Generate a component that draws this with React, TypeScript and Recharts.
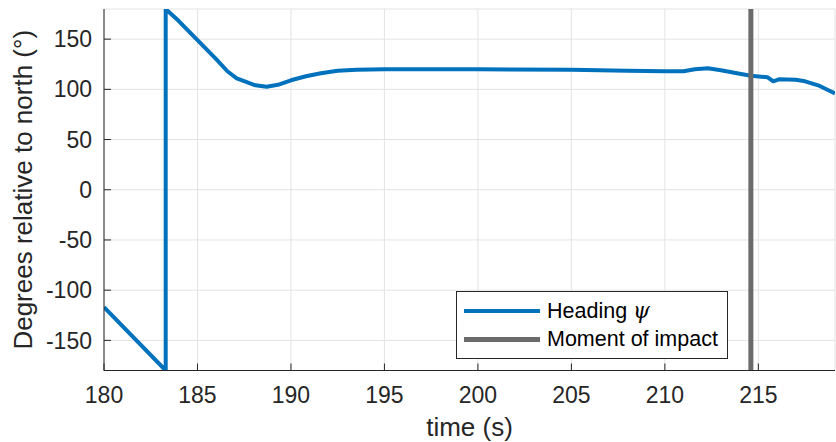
import React from 'react';
import {
  LineChart,
  Line,
  XAxis,
  YAxis,
  CartesianGrid,
  ReferenceLine,
  Legend,
} from 'recharts';

const timeS = [
  180, 183.3, 183.3, 184, 185, 186, 186.6, 187.1, 187.6, 188.1, 188.7, 189.3, 190, 190.8,
  191.6, 192.5, 193.5, 195, 200, 205, 208, 210, 211, 211.6, 212.3, 213, 214, 214.6, 215.5,
  215.8, 216.1, 217, 217.5, 218.2, 219.1,
];
const headingDeg = [
  -117, -180, 180, 168, 149, 130, 118, 111, 107.5, 104, 102.5, 104.5, 109, 113,
  116, 118.5, 119.5, 120, 120, 119.5, 118.5, 118, 118, 120, 121, 119, 115.5, 113.5, 112,
  108, 110, 109.5, 108, 104, 96,
];
const xTicks = [180, 185, 190, 195, 200, 205, 210, 215];
const yTicks = [-150, -100, -50, 0, 50, 100, 150];
const impactTime = 214.6;

const data = timeS.map((t, i) => ({ t, heading: headingDeg[i] }));

const FONT = '"Liberation Sans", Arial, Helvetica, sans-serif';
const INK = '#262626';
const BLUE = '#0072BD';
const GRAY = '#6b6b6b';

const LegendBox = () => (
  <div
    style={{
      border: `1px solid ${INK}`,
      background: '#fff',
      fontFamily: FONT,
      fontSize: 21.5,
      color: '#000',
      padding: '4px 0 4px 7px',
      boxSizing: 'border-box',
      width: 272,
      height: 68,
    }}
  >
    <div style={{ display: 'flex', alignItems: 'center', height: 29 }}>
      <span style={{ width: 76, height: 4, background: BLUE, marginRight: 7 }} />
      <span>
        Heading <span style={{ fontFamily: '"DejaVu Serif", serif', fontStyle: 'italic' }}>ψ</span>
      </span>
    </div>
    <div style={{ display: 'flex', alignItems: 'center', height: 29 }}>
      <span style={{ width: 76, height: 5, background: GRAY, marginRight: 7 }} />
      <span>Moment of impact</span>
    </div>
  </div>
);

const YLabel = ({ viewBox }: any) => {
  const cy = viewBox.y + viewBox.height / 2;
  return (
    <text
      x={23}
      y={cy}
      transform={`rotate(-90, 23, ${cy})`}
      textAnchor="middle"
      dominantBaseline="central"
      fill={INK}
      fontSize={26}
      fontFamily={FONT}
    >
      Degrees relative to north (°)
    </text>
  );
};

const XLabel = ({ viewBox }: any) => (
  <text
    x={viewBox.x + viewBox.width / 2}
    y={436}
    textAnchor="middle"
    fill={INK}
    fontSize={26}
    fontFamily={FONT}
  >
    time (s)
  </text>
);

export default function App() {
  return (
    <div style={{ position: 'absolute', left: 0, top: 0, background: '#fff' }}>
      <LineChart
        width={836}
        height={442}
        data={data}
        margin={{ top: 9, right: 1, left: 0, bottom: 0 }}
      >
        <CartesianGrid xAxisId="main" yAxisId="main" stroke="#e3e3e3" strokeWidth={1} />
        <XAxis
          xAxisId="main"
          dataKey="t"
          type="number"
          domain={[180, 219.1]}
          ticks={xTicks}
          allowDataOverflow
          height={71.5}
          stroke={INK}
          tickSize={-7}
          tickMargin={23}
          tick={{ fill: INK, fontSize: 23, fontFamily: FONT }}
          label={<XLabel />}
        />
        <XAxis
          xAxisId="top"
          dataKey="t"
          type="number"
          orientation="top"
          domain={[180, 219.1]}
          ticks={xTicks}
          allowDataOverflow
          height={0}
          stroke={INK}
          tickSize={-7}
          tickFormatter={() => ''}
        />
        <YAxis
          yAxisId="main"
          type="number"
          domain={[-180, 180]}
          ticks={yTicks}
          allowDataOverflow
          width={104}
          stroke={INK}
          tickSize={-7}
          tickMargin={19}
          tick={{ fill: INK, fontSize: 23, fontFamily: FONT }}
          label={<YLabel />}
        />
        <YAxis
          yAxisId="right"
          orientation="right"
          type="number"
          domain={[-180, 180]}
          ticks={yTicks}
          width={0}
          stroke={INK}
          tickSize={-7}
          tickFormatter={() => ''}
        />
        <Line
          xAxisId="main"
          yAxisId="main"
          type="linear"
          dataKey="heading"
          stroke={BLUE}
          strokeWidth={4}
          strokeLinejoin="round"
          dot={false}
          isAnimationActive={false}
        />
        <ReferenceLine
          xAxisId="main"
          yAxisId="main"
          x={impactTime}
          stroke={GRAY}
          strokeWidth={5}
        />
        <Legend
          layout="horizontal"
          verticalAlign="middle"
          align="center"
          content={<LegendBox />}
          wrapperStyle={{ left: 456, top: 291, width: 272, height: 68 }}
        />
      </LineChart>
    </div>
  );
}
